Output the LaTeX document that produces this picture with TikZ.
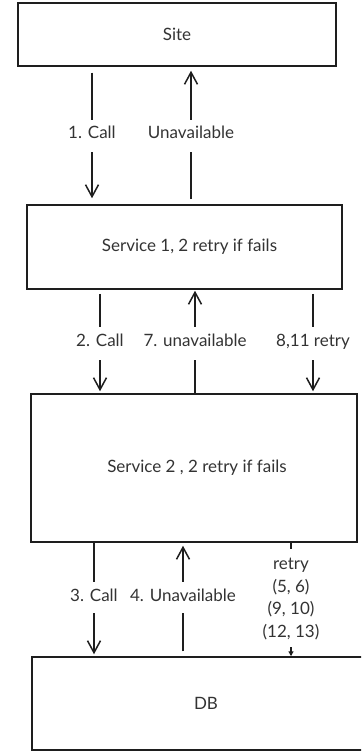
\documentclass[tikz,border=0pt]{standalone}
\usepackage{fontspec}
\setmainfont{Lato}
\usetikzlibrary{arrows.meta}
\definecolor{ink}{HTML}{1E1E1E}
\definecolor{txt}{HTML}{333333}
\begin{document}
\begin{tikzpicture}[x=1pt,y=-1pt,
  font=\fontsize{17}{22.6}\selectfont,
  box/.style={draw=ink,line width=1.5pt,fill=white,text=txt,inner sep=0pt},
  lab/.style={text=txt,inner sep=0pt,text height=12pt,text depth=4pt},
  wire/.style={draw=ink,line width=1.7pt},
  barb/.style={wire,-{Straight Barb[length=12pt,width=13pt,line width=1.5pt]}},
  tri/.style={wire,line width=1.2pt,-{Triangle[length=5pt,width=5pt]}}]
\useasboundingbox (0,0) rectangle (361,751);
\begin{scope}
\clip (0,0) rectangle (361,751);

% boxes
\node[box,minimum width=318pt,minimum height=63pt] (site) at (177,34.5) {Site};
\node[box,minimum width=315pt,minimum height=84pt] (s1) at (184.5,247) {\hspace{10pt}Service 1, 2 retry if fails};
\node[box,minimum width=326pt,minimum height=148pt] (s2) at (194,468) {\hspace{6pt}Service 2 , 2 retry if fails};
\node[box,minimum width=348pt,minimum height=93pt] (db) at (206,703.5) {DB};

% labels
\node[lab] (l1) at (92,135) {1. Call};
\node[lab] (lu) at (191,135) {Unavailable};
\node[lab] (l2) at (100,342) {2. Call};
\node[lab] (l7) at (195,342) {7. unavailable};
\node[lab] (l8) at (313,342) {8,11 retry};
\node[lab] (l3) at (94,597) {3. Call};
\node[lab] (l4) at (183,597) {4. Unavailable};
\node[text=txt,inner sep=0pt,align=center] (lr) at (291,599) {retry\\(5, 6)\\(9, 10)\\(12, 13)};

% Site <-> Service 1
\draw[wire,shorten <=6pt,shorten >=7pt] (site.south -| l1) -- (l1.north);
\draw[barb,shorten <=9pt,shorten >=6pt] (l1.south) -- (s1.north -| l1);
\draw[wire,shorten <=5pt,shorten >=9pt] (s1.north -| lu) -- (lu.south);
\draw[barb,shorten <=7pt,shorten >=4pt] (lu.north) -- (site.south -| lu);

% Service 1 <-> Service 2
\draw[wire,shorten <=4pt,shorten >=7pt] (s1.south -| l2) -- (l2.north);
\draw[barb,shorten <=10pt,shorten >=2pt] (l2.south) -- (s2.north -| l2);
\draw[wire,shorten >=10pt] (s2.north -| l7) -- (l7.south);
\draw[barb,shorten <=7pt,shorten >=1pt] (l7.north) -- (s1.south -| l7);
\draw[wire,shorten <=4pt,shorten >=7pt] (s1.south -| l8) -- (l8.north);
\draw[barb,shorten <=10pt,shorten >=2pt] (l8.south) -- (s2.north -| l8);

% Service 2 <-> DB
\draw[wire,shorten >=7pt] (s2.south -| l3) -- (l3.north);
\draw[barb,shorten <=8pt,shorten >=2pt] (l3.south) -- (db.north -| l3);
\draw[wire,shorten <=5pt,shorten >=8pt] (db.north -| l4) -- (l4.south);
\draw[barb,shorten <=7pt,shorten >=3pt] (l4.north) -- (s2.south -| l4);
\draw[wire,shorten >=9pt] (s2.south -| lr) -- (lr.north);
\draw[tri,shorten <=7pt] (lr.south) -- (db.north -| lr);
\end{scope}
\end{tikzpicture}
\end{document}
